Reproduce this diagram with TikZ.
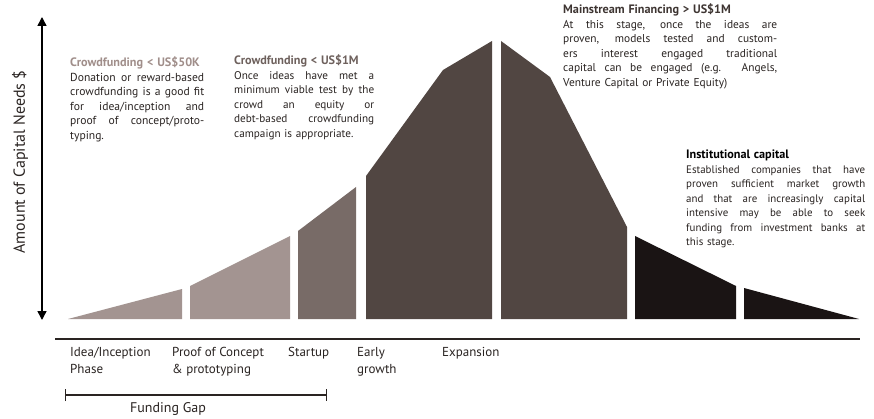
\documentclass[tikz,border=0pt]{standalone}
\usepackage{fontspec}
\setmainfont{PT Sans}
\usetikzlibrary{arrows.meta}
\definecolor{clight}{RGB}{163,148,145}
\definecolor{cstart}{RGB}{120,107,103}
\definecolor{cmid}{RGB}{81,70,66}
\definecolor{cblack}{RGB}{26,20,20}
\definecolor{ctext}{RGB}{42,36,34}
\definecolor{ctlight}{RGB}{160,142,138}
\definecolor{ctstart}{RGB}{110,97,93}
\definecolor{ctmid}{RGB}{62,53,50}
\newcommand{\jl}[1]{\makebox[\hsize][s]{\spaceskip=0pt\xspaceskip=0pt\relax #1}\\}
\newcommand{\btitle}[2]{{\fontsize{12.2}{14.5}\selectfont\bfseries\color{#1}#2}\\}
\tikzset{
  blocktext/.style={anchor=north west, inner sep=0pt, align=left, text=ctext,
    font=\fontsize{11}{14.5}\selectfont},
  stagelabel/.style={anchor=north west, inner sep=0pt, align=left, text=ctext,
    font=\fontsize{13}{17}\selectfont}
}
\begin{document}
\begin{tikzpicture}[x=1pt,y=-1pt]
\useasboundingbox (0,0) rectangle (874,419);
\fill[white] (0,0) rectangle (874,419);
% curve segments
\fill[clight] (68,319) -- (182,289) -- (182,319) -- cycle;
\fill[clight] (190,319) -- (190,286) -- (290,236) -- (290,319) -- cycle;
\fill[cstart] (298,319) -- (298,231) -- (356,187) -- (356,319) -- cycle;
\fill[cmid] (366,319) -- (366,176) -- (443,70) -- (492,41) -- (492,319) -- cycle;
\fill[cmid] (501,319) -- (501,41) -- (550,77) -- (627,227) -- (627,319) -- cycle;
\fill[cblack] (635,319) -- (635,236) -- (736,286) -- (736,319) -- cycle;
\fill[cblack] (744,319) -- (744,288) -- (859,319) -- cycle;
% vertical axis
\coordinate (ytop) at (42,17);
\coordinate (ybot) at (42,320);
\draw[line width=1.4pt, black, {Triangle[width=9pt,length=9pt]}-{Triangle[width=9pt,length=9pt]}] (ytop) -- (ybot);
\node[rotate=90, font=\fontsize{16}{18}\selectfont, text=ctext] (ylab) at (20,162) {Amount of Capital Needs \$};
% horizontal rule
\coordinate (hl) at (55,339);
\coordinate (hr) at (860,339);
\draw[line width=1.1pt, ctext] (hl) -- (hr);
% stage labels
\node[stagelabel] (s1) at (70,347) {Idea/Inception\\Phase};
\node[stagelabel] (s2) at (172,347) {Proof of Concept\\\& prototyping};
\node[stagelabel] (s3) at (288,347) {Startup};
\node[stagelabel] (s4) at (357,347) {Early\\growth};
\node[stagelabel] (s5) at (442,347) {Expansion};
% funding gap
\coordinate (fgl) at (65,395);
\coordinate (fgr) at (327,395);
\draw[line width=1.1pt, ctext, {Bar[width=12pt]}-{Bar[width=12pt]}] (fgl) -- (fgr);
\node[font=\fontsize{14}{16}\selectfont, text=ctext] (fg) at (168,409) {Funding Gap};
% text blocks
\node[blocktext, text width=134pt, font=\fontsize{11.6}{14.5}\selectfont] (b1) at (70,57) {%
\btitle{ctlight}{Crowdfunding < US\$50K}
\jl{Donation or reward-based}
\jl{crowdfunding is a good fit}
\jl{for idea/inception and}
\jl{proof of concept/proto-}
typing.};
\node[blocktext, text width=140pt, font=\fontsize{11.2}{14.5}\selectfont] (b2) at (234,55) {%
\btitle{ctstart}{Crowdfunding < US\$1M}
\jl{Once ideas have met a}
\jl{minimum viable test by the}
\jl{crowd an equity or}
\jl{debt-based crowdfunding}
campaign is appropriate.};
\node[blocktext, text width=214pt, font=\fontsize{11.4}{14.5}\selectfont] (b3) at (563,4) {%
\btitle{ctmid}{Mainstream Financing > US\$1M}
\jl{At this stage, once the ideas are}
\jl{proven, models tested and custom-}
\jl{ers interest engaged traditional}
\jl{capital can be engaged (e.g. Angels,}
Venture Capital or Private Equity)};
\node[blocktext, text width=179pt, font=\fontsize{10.9}{14.5}\selectfont] (b4) at (686,150) {%
\btitle{black}{Institutional capital}
\jl{Established companies that have}
\jl{proven sufficient market growth}
\jl{and that are increasingly capital}
\jl{intensive may be able to seek}
\jl{funding from investment banks at}
this stage.};
\end{tikzpicture}
\end{document}
